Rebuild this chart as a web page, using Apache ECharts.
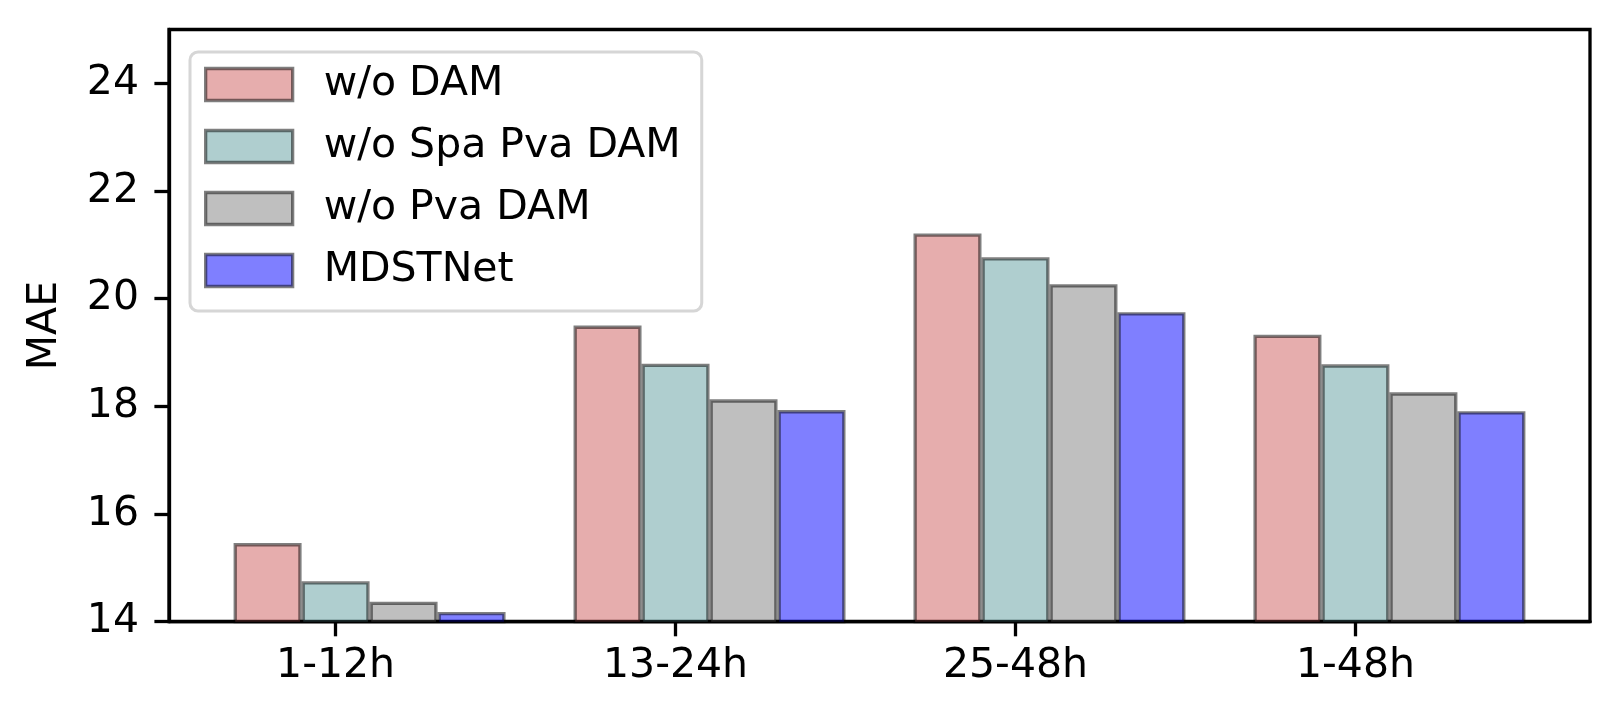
<!DOCTYPE html>
<html>
<head>
<meta charset="utf-8">
<script src="https://cdn.jsdelivr.net/npm/echarts@6/dist/echarts.min.js"></script>
<style>html,body{margin:0;padding:0;background:#fff;}#c{width:1620px;height:720px;}</style>
</head>
<body>
<div id="c"></div>
<script>
const categories = ['1-12h', '13-24h', '25-48h', '1-48h'];
const seriesNames = ['w/o DAM', 'w/o Spa Pva DAM', 'w/o Pva DAM', 'MDSTNet'];
const woDAM = [15.46, 19.50, 21.21, 19.33];
const woSpaPvaDAM = [14.75, 18.79, 20.77, 18.78];
const woPvaDAM = [14.37, 18.13, 20.27, 18.26];
const mdstnet = [14.18, 17.93, 19.75, 17.91];
const yTicks = [14, 16, 18, 20, 22, 24];
const xTicks = [0, 1, 2, 3];

const values = [woDAM, woSpaPvaDAM, woPvaDAM, mdstnet];
const fills = ['rgba(205,92,92,0.5)', 'rgba(95,158,160,0.5)', 'rgba(128,128,128,0.5)', 'rgba(0,0,255,0.5)'];
const barW = 0.2;
const edge = 'rgba(0,0,0,0.5)';
const font = 'DejaVu Sans';

const series = values.map((vals, k) => ({
  name: seriesNames[k],
  type: 'bar',
  barWidth: 68,
  barGap: '-100%',
  data: vals.map((v, i) => [i + (k - 1) * barW, v]),
  itemStyle: { color: fills[k], borderColor: edge, borderWidth: 3.3 },
  emphasis: { disabled: true },
  animation: false
}));

const chart = echarts.init(document.getElementById('c'), null, { renderer: 'canvas' });
chart.setOption({
  backgroundColor: '#fff',
  animation: false,
  grid: { left: 169, right: 30, top: 29.5, bottom: 98.3, show: true, borderColor: '#000', borderWidth: 3.3, backgroundColor: 'transparent' },
  legend: {
    orient: 'vertical',
    left: 190, top: 52,
    padding: [12, 21, 20, 14],
    itemWidth: 87, itemHeight: 32, itemGap: 21,
    icon: 'rect',
    backgroundColor: '#fff',
    borderColor: '#d6d6d6', borderWidth: 3, borderRadius: 8,
    itemStyle: { borderColor: edge, borderWidth: 3.3 },
    textStyle: { fontFamily: font, fontSize: 41, color: '#000', padding: [0, 0, 0, 26] },
    data: seriesNames
  },
  xAxis: {
    type: 'value', min: -0.49, max: 3.69,
    splitLine: { show: false },
    axisLine: { show: true, onZero: false, lineStyle: { color: '#000', width: 3.3 } },
    axisTick: { show: true, customValues: xTicks, length: 14.6, lineStyle: { color: '#000', width: 3.3 } },
    axisLabel: { customValues: xTicks, formatter: v => categories[Math.round(v)], fontFamily: font, fontSize: 41, color: '#000', margin: 24 }
  },
  yAxis: {
    type: 'value', min: 14, max: 25,
    name: 'MAE', nameLocation: 'middle', nameGap: 103,
    nameTextStyle: { fontFamily: font, fontSize: 41, color: '#000' },
    splitLine: { show: false },
    axisLine: { show: true, onZero: false, lineStyle: { color: '#000', width: 3.3 } },
    axisTick: { show: true, customValues: yTicks, length: 14.6, lineStyle: { color: '#000', width: 3.3 } },
    axisLabel: { customValues: yTicks, fontFamily: font, fontSize: 41, color: '#000', margin: 30 }
  },
  series: series
});
</script>
</body>
</html>
